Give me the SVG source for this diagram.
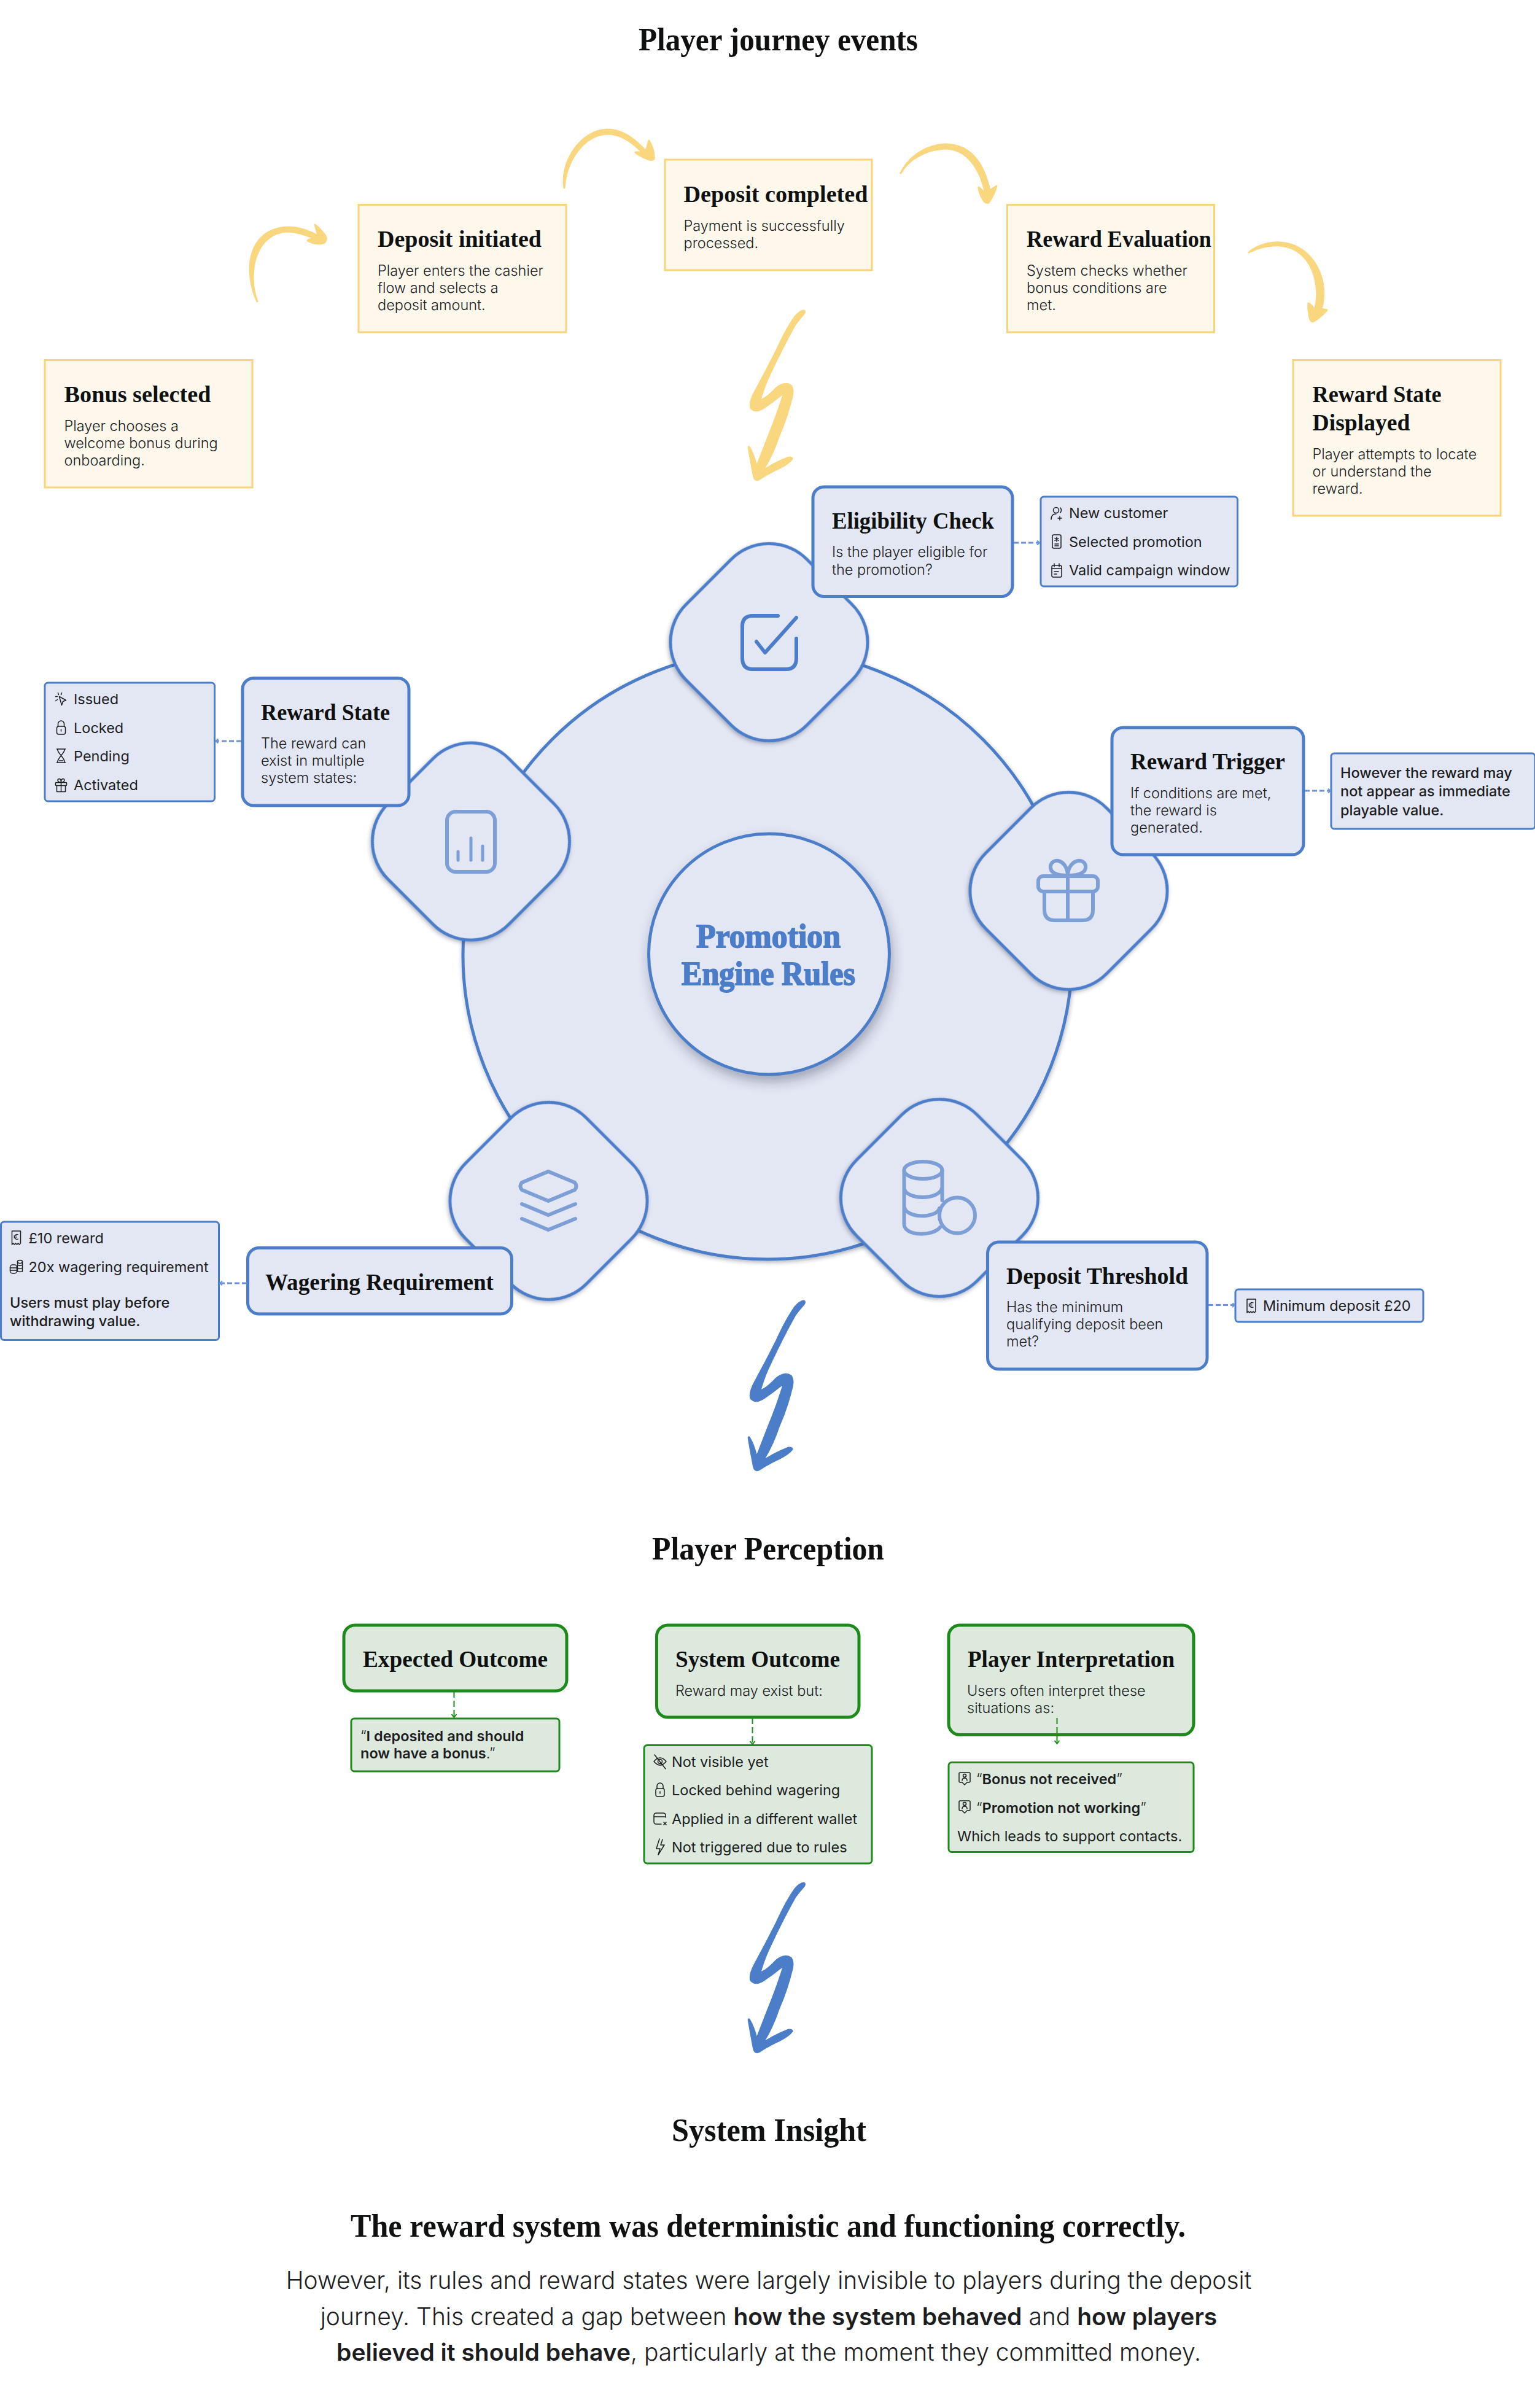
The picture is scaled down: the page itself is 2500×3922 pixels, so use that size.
<svg xmlns="http://www.w3.org/2000/svg" xmlns:xlink="http://www.w3.org/1999/xlink" width="2500" height="3922" viewBox="0 0 2500 3922">
<style>
text{font-family:Inter,"Liberation Sans",sans-serif;fill:#1c1d1f}
.h1,.h2,.hub{font-family:"Liberation Serif","DejaVu Serif",serif;font-weight:700;fill:#0f1110}
.h1{font-size:52px}
.h2{font-size:37px}
.hub{font-size:54px;fill:#4c7dc9;stroke:#4c7dc9;stroke-width:1.8px}
.b{font-size:23.5px;font-weight:300}
.l{font-size:23.5px;font-weight:400}
.n{font-size:23.5px;font-weight:500}
.lead{font-size:39px;font-weight:300}
.sb{font-weight:600}
.y{fill:#fdf7ec;stroke:#f8d47a;stroke-width:3}
.p{fill:#e3e6f3;stroke:#4c7dc9;stroke-width:5}
.q{fill:#e3e6f3;stroke:#4c7dc9;stroke-width:3}
.g{fill:#dde9dd;stroke:#1f8a1c;stroke-width:5}
.k{fill:#dde9dd;stroke:#1f8a1c;stroke-width:3}
.d{fill:#e3e6f3;stroke:#4c7dc9;stroke-width:5;filter:url(#sh)}
.ic{fill:none;stroke:#7e9fd6;stroke-width:6;stroke-linecap:round;stroke-linejoin:round}
.i{fill:none;stroke:#1c1d1f;stroke-width:1.5;stroke-linecap:round;stroke-linejoin:round}
.cb{fill:none;stroke:#6c93d3;stroke-width:3;stroke-dasharray:8 4}
.cg{fill:none;stroke:#1f8a1c;stroke-width:2;stroke-dasharray:10 5}
.fy{fill:#f9d77e}
.cv{stroke:#f9d77e;stroke-width:3;stroke-linejoin:round}
.fb{fill:#4c7dc9}
</style>
<defs>
<filter id="sh" x="-15%" y="-15%" width="130%" height="130%"><feDropShadow dx="1" dy="3" stdDeviation="3" flood-color="#2a3550" flood-opacity=".35"/></filter>
<filter id="sh2" x="-15%" y="-15%" width="130%" height="130%"><feDropShadow dx="3" dy="10" stdDeviation="9" flood-color="#2a3550" flood-opacity=".35"/></filter>
<marker id="ab" markerWidth="10" markerHeight="10" refX="6" refY="4" orient="auto" markerUnits="userSpaceOnUse"><path d="M2 0.5L6 4L2 7.5" fill="none" stroke="#6c93d3" stroke-width="2"/></marker>
<marker id="ag" markerWidth="12" markerHeight="12" refX="7" refY="5" orient="auto" markerUnits="userSpaceOnUse"><path d="M2 1L7 5L2 9" fill="none" stroke="#1f8a1c" stroke-width="2"/></marker>
<path id="bolt" transform="translate(1150 2100) scale(.3333)" d="M478 52Q492 58 482 74Q462 96 440 125Q420 160 395 208Q350 295 320 360Q290 420 270 488Q295 480 340 432Q385 395 418 420Q432 440 425 475Q400 580 360 670Q330 760 290 825Q340 795 400 770Q425 768 425 782Q405 810 340 840Q290 865 265 883Q235 900 228 865Q210 770 203 725Q205 712 215 722Q235 755 248 805Q280 720 320 620Q355 530 372 470Q330 505 285 535Q240 565 215 535Q205 505 235 450Q290 350 340 250Q385 150 430 85Q455 55 478 52Z"/>
<g id="i-user" class="i"><circle cx="-1" cy="-5" r="4.5"/><path d="M-9 10C-9 3-5 1-1 1M6-9Q9-5 6-1M5 5V11M2 8H8"/></g>
<g id="i-promo" class="i"><rect x="-7" y="-11" width="14" height="22" rx="2.5"/><path d="M-3 4H3M-3 7H3"/><path d="M0-7V0M-3-5.5L3-1.5M3-5.5L-3-1.5"/></g>
<g id="i-cal" class="i"><rect x="-8" y="-8" width="16" height="19" rx="2.5"/><path d="M-8-3H8M-4-11V-6M4-11V-6M-4 2H3M-4 6H0"/></g>
<g id="i-click" class="i"><path d="M-3-4L8 2L3 4L1 10Z"/><path d="M-5-10L-4-7M-9-4L-6-4M1-10L0-7M-9 3L-6 1"/></g>
<g id="i-lock" class="i"><rect x="-7" y="-2" width="14" height="13" rx="3"/><path d="M-5-2V-6A5 5 0 0 1 5-6V-2M0 3V6"/></g>
<g id="i-hour" class="i"><path d="M-7-11H7M-7 11H7M-6-11C-6-4 6 3 6 11M6-11C6-4-6 3-6 11M-3 8H3"/></g>
<g id="i-gift" class="i"><rect x="-9" y="-4" width="18" height="5" rx="1"/><path d="M-7 1V11H7V1M0-4V11M0-4C-6-4-7-10-3-10C-1-10 0-7 0-4C0-7 1-10 3-10C7-10 6-4 0-4"/></g>
<g id="i-rec" class="i"><path d="M-7-11H7V9L5 11L3 9L1 11L-1 9L-3 11L-5 9L-7 11Z"/><path d="M3-5A4 4 0 1 0 3 2M-4-3H1M-4 0H1" stroke-width="1.2"/></g>
<g id="i-coins" class="i"><ellipse cx="6" cy="-8" rx="4" ry="2.5"/><path d="M2-8V8M10-8V8M2-3Q6 0 10-3M2 2Q6 5 10 2M2 7Q6 10 10 7"/><rect x="-10" y="-3" width="11" height="14" rx="4"/><path d="M-10 2H1M-10 6H1"/></g>
<g id="i-eye" class="i"><path d="M-10 0Q0-12 10 0Q0 12-10 0Z"/><circle r="3.5"/><path d="M-9-11L9 12"/></g>
<g id="i-wal" class="i"><path d="M9-2V-5Q9-9 5-9H-6Q-10-9-10-5V5Q-10 9-6 9H2M-10-3H9M6 6L10 10M10 6L6 10"/></g>
<g id="i-bolt" class="i"><path d="M-1-13L-6 3H0L-3 13L7-3H1L4-12"/></g>
<g id="i-chat" class="i"><path d="M-7-10H7Q9-10 9-8V4Q9 6 7 6H4L0 10L-4 6H-7Q-9 6-9 4V-8Q-9-10-7-10Z"/><circle cy="-5" r="2.5"/><path d="M-4 3Q-4-1 0-1Q4-1 4 3"/></g>
</defs>

<g id="titles">
<text class="h1" x="1040" y="82" textLength="455" lengthAdjust="spacingAndGlyphs">Player journey events</text>
<text class="h1" x="1062" y="2540" textLength="378" lengthAdjust="spacingAndGlyphs">Player Perception</text>
<text class="h1" x="1094" y="3487" textLength="317" lengthAdjust="spacingAndGlyphs">System Insight</text>
</g>

<g id="event-bonus"><rect class="y" x="73" y="586.5" width="338" height="207.5"/>
<text class="h2" x="104.5" y="655" textLength="239" lengthAdjust="spacingAndGlyphs">Bonus selected</text>
<text class="b"><tspan x="104.5" y="701.5">Player chooses a</tspan><tspan x="104.5" y="729.5">welcome bonus during</tspan><tspan x="104.5" y="757.5">onboarding.</tspan></text></g>
<g id="event-deposit-initiated"><rect class="y" x="584" y="333.5" width="338" height="207.5"/>
<text class="h2" x="615" y="402" textLength="267" lengthAdjust="spacingAndGlyphs">Deposit initiated</text>
<text class="b"><tspan x="615" y="449">Player enters the cashier</tspan><tspan x="615" y="477">flow and selects a</tspan><tspan x="615" y="505">deposit amount.</tspan></text></g>
<g id="event-deposit-completed"><rect class="y" x="1083" y="260" width="337" height="180"/>
<text class="h2" x="1113.5" y="329" textLength="300" lengthAdjust="spacingAndGlyphs">Deposit completed</text>
<text class="b"><tspan x="1113.5" y="376">Payment is successfully</tspan><tspan x="1113.5" y="404">processed.</tspan></text></g>
<g id="event-reward-evaluation"><rect class="y" x="1640.5" y="333.5" width="337" height="207.5"/>
<text class="h2" x="1672" y="402" textLength="301" lengthAdjust="spacingAndGlyphs">Reward Evaluation</text>
<text class="b"><tspan x="1672" y="449">System checks whether</tspan><tspan x="1672" y="477">bonus conditions are</tspan><tspan x="1672" y="505">met.</tspan></text></g>
<g id="event-reward-state"><rect class="y" x="2106" y="586.5" width="338" height="253.5"/>
<text class="h2"><tspan x="2137.5" y="655" textLength="210" lengthAdjust="spacingAndGlyphs">Reward State</tspan><tspan x="2137.5" y="700.5" textLength="159" lengthAdjust="spacingAndGlyphs">Displayed</tspan></text>
<text class="b"><tspan x="2137.5" y="748">Player attempts to locate</tspan><tspan x="2137.5" y="776">or understand the</tspan><tspan x="2137.5" y="804">reward.</tspan></text></g>

<g id="hub-disc"><circle cx="1250" cy="1555" r="496" class="d"/></g>

<g id="icon-eligibility"><rect class="d" x="-139" y="-139" width="278" height="278" rx="87" transform="translate(1252.5 1046) rotate(45)"/>
<path fill="none" stroke="#4c7dc9" stroke-width="6" stroke-linecap="round" stroke-linejoin="round" d="M1267 1003H1226Q1209 1003 1209 1020V1072Q1209 1090 1226 1090H1280Q1297 1090 1297 1072V1040M1232 1045L1246 1063L1297 1006"/></g>
<g id="icon-state"><rect class="d" x="-139" y="-139" width="278" height="278" rx="87" transform="translate(767 1370.5) rotate(45)"/>
<g class="ic"><rect x="728" y="1322" width="78" height="98" rx="14"/><path d="M746 1387V1401M767 1365V1401M786 1378V1401" stroke-width="5"/></g></g>
<g id="icon-trigger"><rect class="d" x="-139" y="-139" width="278" height="278" rx="87" transform="translate(1740.5 1451) rotate(45)"/>
<g class="ic"><rect x="1691" y="1427" width="97" height="25" rx="8"/><path d="M1701 1452V1482Q1701 1499 1718 1499H1763Q1780 1499 1780 1482V1452M1739 1427V1499"/><path d="M1739 1426C1722 1426 1709 1422 1711 1410C1714 1397 1736 1398 1739 1424C1742 1398 1766 1397 1768 1410C1770 1422 1756 1426 1739 1426"/></g></g>
<g id="icon-wagering"><rect class="d" x="-139" y="-139" width="278" height="278" rx="87" transform="translate(893.5 1956) rotate(45)"/>
<g class="ic"><path d="M893 1908L936 1926Q941 1932 936 1938L893 1956L850 1938Q845 1932 850 1926Z"/><path d="M850 1961L893 1979L937 1961M850 1985L893 2003L937 1985"/></g></g>
<g id="icon-threshold"><rect class="d" x="-139" y="-139" width="278" height="278" rx="87" transform="translate(1530 1951) rotate(45)"/>
<g class="ic"><ellipse cx="1503.5" cy="1906" rx="31" ry="14"/><path d="M1472.5 1906V1994C1473 2014 1520 2014 1531 1999M1534.5 1906V1955M1472.5 1935C1475 1955 1530 1955 1534 1935M1472.5 1965C1475 1985 1525 1985 1530 1968"/><circle cx="1559" cy="1979.5" r="29"/></g></g>

<g id="hub"><circle cx="1252.5" cy="1554" r="196" fill="#e3e6f3" stroke="#4c7dc9" stroke-width="5" filter="url(#sh2)"/>
<text class="hub" x="1134" y="1543" textLength="235" lengthAdjust="spacingAndGlyphs">Promotion</text>
<text class="hub" x="1110" y="1604" textLength="283" lengthAdjust="spacingAndGlyphs">Engine Rules</text></g>

<g id="node-eligibility"><rect class="p" x="1324" y="793" width="325" height="178.5" rx="18"/>
<text class="h2" x="1355" y="861" textLength="264" lengthAdjust="spacingAndGlyphs">Eligibility Check</text>
<text class="b"><tspan x="1355" y="907">Is the player eligible for</tspan><tspan x="1355" y="935.5">the promotion?</tspan></text></g>
<g id="list-eligibility"><rect class="q" x="1695" y="809" width="320.5" height="146" rx="5"/>
<use href="#i-user" x="1721" y="836"/><text class="l" x="1741" y="844">New customer</text>
<use href="#i-promo" x="1721" y="882"/><text class="l" x="1741" y="890.5">Selected promotion</text>
<use href="#i-cal" x="1721" y="929"/><text class="l" x="1741" y="937">Valid campaign window</text></g>

<g id="node-state"><rect class="p" x="395" y="1104.5" width="271" height="207.5" rx="18"/>
<text class="h2" x="425" y="1172.5" textLength="210" lengthAdjust="spacingAndGlyphs">Reward State</text>
<text class="b"><tspan x="425" y="1218.5">The reward can</tspan><tspan x="425" y="1247">exist in multiple</tspan><tspan x="425" y="1275">system states:</tspan></text></g>
<g id="list-state"><rect class="q" x="73" y="1112" width="276.5" height="193" rx="5"/>
<use href="#i-click" x="99.5" y="1138.5"/><text class="l" x="120" y="1147">Issued</text>
<use href="#i-lock" x="99.5" y="1185"/><text class="l" x="120" y="1193.5">Locked</text>
<use href="#i-hour" x="99.5" y="1231"/><text class="l" x="120" y="1240">Pending</text>
<use href="#i-gift" x="99.5" y="1278.5"/><text class="l" x="120" y="1287">Activated</text></g>

<g id="node-trigger"><rect class="p" x="1811" y="1185" width="312" height="207" rx="18"/>
<text class="h2" x="1841" y="1252.5" textLength="252" lengthAdjust="spacingAndGlyphs">Reward Trigger</text>
<text class="b"><tspan x="1841" y="1299.5">If conditions are met,</tspan><tspan x="1841" y="1327.5">the reward is</tspan><tspan x="1841" y="1355.5">generated.</tspan></text></g>
<g id="note-trigger"><rect class="q" x="2168" y="1227" width="332" height="123" rx="5"/>
<text class="n"><tspan x="2183" y="1266.5">However the reward may</tspan><tspan x="2183" y="1297">not appear as immediate</tspan><tspan x="2183" y="1328">playable value.</tspan></text></g>

<g id="node-wagering"><rect class="p" x="403.5" y="2032.5" width="430" height="107.5" rx="18"/>
<text class="h2" x="432" y="2100.5" textLength="372" lengthAdjust="spacingAndGlyphs">Wagering Requirement</text></g>
<g id="list-wagering"><rect class="q" x="1.5" y="1990" width="355" height="192.5" rx="5"/>
<use href="#i-rec" x="26.5" y="2016"/><text class="l" x="46.5" y="2025">£10 reward</text>
<use href="#i-coins" x="26.5" y="2063"/><text class="l" x="46.5" y="2071.5">20x wagering requirement</text>
<text class="n"><tspan x="16" y="2130">Users must play before</tspan><tspan x="16" y="2160">withdrawing value.</tspan></text></g>

<g id="node-threshold"><rect class="p" x="1608.5" y="2023" width="357.5" height="207" rx="18"/>
<text class="h2" x="1639" y="2090.5" textLength="296" lengthAdjust="spacingAndGlyphs">Deposit Threshold</text>
<text class="b"><tspan x="1639" y="2137">Has the minimum</tspan><tspan x="1639" y="2165">qualifying deposit been</tspan><tspan x="1639" y="2193">met?</tspan></text></g>
<g id="list-threshold"><rect class="q" x="2012" y="2100" width="306" height="53" rx="5"/>
<use href="#i-rec" x="2038" y="2127"/><text class="l" x="2057" y="2135">Minimum deposit £20</text></g>

<g id="node-expected"><rect class="g" x="560" y="2647" width="363" height="107" rx="18"/>
<text class="h2" x="591" y="2714.5" textLength="301" lengthAdjust="spacingAndGlyphs">Expected Outcome</text></g>
<g id="note-expected"><rect class="k" x="572" y="2799" width="339" height="86" rx="5"/>
<text class="l sb"><tspan x="587" y="2836"><tspan font-weight="300">“</tspan>I deposited and should</tspan><tspan x="587" y="2864">now have a bonus<tspan font-weight="300">.”</tspan></tspan></text></g>

<g id="node-system"><rect class="g" x="1069.5" y="2647" width="329.5" height="150" rx="18"/>
<text class="h2" x="1100" y="2714.5" textLength="268" lengthAdjust="spacingAndGlyphs">System Outcome</text>
<text class="b" x="1100" y="2761.5">Reward may exist but:</text></g>
<g id="list-system"><rect class="k" x="1049" y="2842.5" width="371" height="192.5" rx="5"/>
<use href="#i-eye" x="1075" y="2869"/><text class="l" x="1094" y="2877.5">Not visible yet</text>
<use href="#i-lock" x="1075" y="2915"/><text class="l" x="1094" y="2924">Locked behind wagering</text>
<use href="#i-wal" x="1075" y="2962"/><text class="l" x="1094" y="2970.5">Applied in a different wallet</text>
<use href="#i-bolt" x="1075" y="3008"/><text class="l" x="1094" y="3017">Not triggered due to rules</text></g>

<g id="node-interpretation"><rect class="g" x="1545" y="2647" width="399" height="178.5" rx="18"/>
<text class="h2" x="1576" y="2715" textLength="337" lengthAdjust="spacingAndGlyphs">Player Interpretation</text>
<text class="b"><tspan x="1575" y="2761.5">Users often interpret these</tspan><tspan x="1575" y="2790">situations as:</tspan></text></g>
<g id="list-interpretation"><rect class="k" x="1545" y="2870.5" width="399" height="146" rx="5"/>
<use href="#i-chat" x="1571" y="2897"/><text class="l" x="1590" y="2906"><tspan font-weight="300">“</tspan><tspan class="sb">Bonus not received</tspan><tspan font-weight="300">”</tspan></text>
<use href="#i-chat" x="1571" y="2943"/><text class="l" x="1590" y="2952.5"><tspan font-weight="300">“</tspan><tspan class="sb">Promotion not working</tspan><tspan font-weight="300">”</tspan></text>
<text class="l" x="1559" y="2999">Which leads to support contacts.</text></g>

<g id="insight">
<text class="h1" x="571" y="3643" textLength="1360" lengthAdjust="spacingAndGlyphs">The reward system was deterministic and functioning correctly.</text>
<text class="lead" text-anchor="middle"><tspan x="1252" y="3728">However, its rules and reward states were largely invisible to players during the deposit</tspan><tspan x="1252" y="3787">journey. This created a gap between <tspan class="sb">how the system behaved</tspan> and <tspan class="sb">how players</tspan></tspan><tspan x="1252" y="3845"><tspan class="sb">believed it should behave</tspan>, particularly at the moment they committed money.</tspan></text>
</g>

<g id="connectors">
<g class="fy">
<path class="cv" d="M419 491C397 445 401 372 470 370C488 370 505 377 518 384L513 366Q525 376 531 386Q533 397 520 397Q510 397 501 392Q504 388 516 390C500 383 485 378 470 377C415 378 402 445 419 491Z"/>
<path class="cv" d="M919 306C912 265 945 212 989 211C1015 211 1035 228 1052 246L1057 229Q1066 245 1065 259Q1063 262 1055 259Q1043 255 1035 248Q1040 247 1048 250C1030 232 1012 218 989 218C950 220 922 262 919 306Z"/>
<path class="cv" d="M1467 282C1480 255 1510 235 1541 235C1580 236 1602 265 1612 310L1623 303Q1618 320 1610 330Q1604 332 1600 323Q1595 315 1594 305Q1600 310 1605 316C1597 275 1575 243 1541 242C1510 243 1480 258 1467 282Z"/>
<path class="cv" d="M2034 411C2050 398 2070 394 2085 395C2130 398 2160 440 2155 490Q2154 497 2152 503L2161 505Q2150 518 2138 524Q2132 522 2132 510Q2130 503 2131 494Q2137 497 2141 505C2152 470 2140 405 2085 400C2068 399 2050 403 2034 411Z"/>
<use href="#bolt" y="-1613"/>
</g>
<use href="#bolt" class="fb"/>
<use href="#bolt" class="fb" y="948"/>
<path class="cb" marker-end="url(#ab)" d="M1651 884H1693"/>
<path class="cb" marker-end="url(#ab)" d="M393 1207H351.5"/>
<path class="cb" marker-end="url(#ab)" d="M2125 1288H2167"/>
<path class="cb" marker-end="url(#ab)" d="M402 2090H358"/>
<path class="cb" marker-end="url(#ab)" d="M1968 2125.5H2011"/>
<path class="cg" marker-end="url(#ag)" d="M739.5 2755V2797"/>
<path class="cg" marker-end="url(#ag)" d="M1225.5 2798V2841"/>
<path class="cg" marker-end="url(#ag)" d="M1721.5 2798V2840"/>
</g>
</svg>
